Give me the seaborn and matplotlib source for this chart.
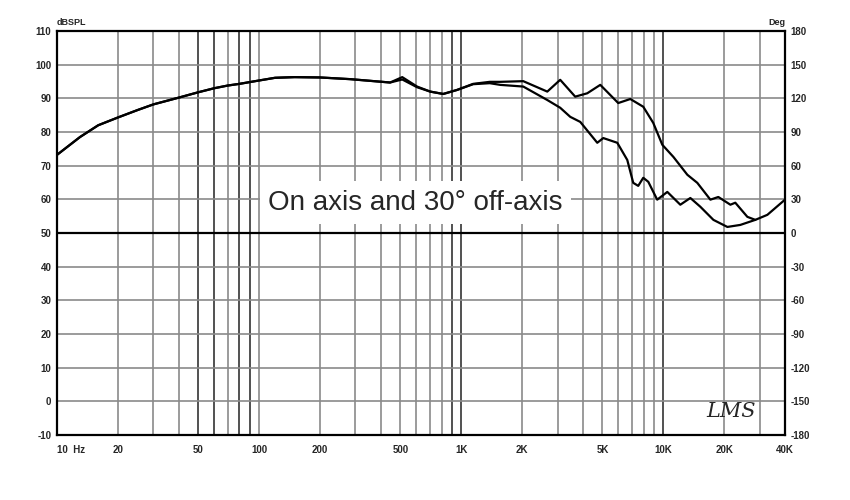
import numpy as np
import pandas as pd
import matplotlib
matplotlib.use("Agg")
import matplotlib.pyplot as plt
import seaborn as sns

# shared low-frequency part of both curves (Hz, dB SPL)
low_freq = [10, 13, 16, 20, 25, 30, 40, 50, 60, 70, 80, 100, 120, 150, 200, 282, 445]
low_db = [73.2, 78.5, 82.0, 84.3, 86.5, 88.2, 90.2, 91.8, 93.0, 93.8, 94.3, 95.3, 96.1, 96.3, 96.2, 95.7, 94.7]

# on axis
on_freq = [511, 605, 703, 815, 955, 1146, 1385, 1560, 2028, 2667, 3090, 3666, 4205, 4878,
           5985, 6868, 7960, 8920, 9890, 11220, 13150, 14730, 17100, 18720, 21480, 22710,
           26060, 28530, 32730, 40000]
on_db = [96.3, 93.5, 92.0, 91.3, 92.5, 94.3, 94.9, 94.9, 95.1, 92.0, 95.5, 90.5, 91.5, 94.0,
         88.6, 89.8, 87.5, 82.7, 76.2, 72.6, 67.3, 64.9, 59.9, 60.7, 58.4, 59.0,
         54.8, 53.9, 55.4, 59.9]

# 30 degrees off axis
off_freq = [511, 605, 703, 815, 955, 1146, 1385, 1560, 2028, 2667, 3090, 3465, 3883, 4713,
            5048, 5920, 6634, 7100, 7516, 7960, 8430, 9330, 10470, 12140, 13610, 15250,
            17700, 20750, 24050, 28530]
off_db = [95.6, 93.3, 92.0, 91.3, 92.5, 94.2, 94.5, 94.0, 93.5, 89.5, 87.2, 84.5, 83.0, 76.8,
          78.2, 76.8, 71.7, 64.9, 64.0, 66.4, 65.2, 59.9, 62.2, 58.4, 60.4, 57.8,
          53.9, 51.8, 52.4, 53.9]

x_ticks = [10, 20, 50, 100, 200, 500, 1000, 2000, 5000, 10000, 20000, 40000]
x_labels = ["10  Hz", "20", "50", "100", "200", "500", "1K", "2K", "5K", "10K", "20K", "40K"]
db_ticks = list(range(-10, 111, 10))
deg_ticks = list(range(-180, 181, 30))

df = pd.concat([
    pd.DataFrame({"freq": low_freq + on_freq, "db": low_db + on_db, "curve": "on"}),
    pd.DataFrame({"freq": low_freq + off_freq, "db": low_db + off_db, "curve": "off"}),
])

sns.set_theme(style="white")
plt.rcParams["font.family"] = ["Liberation Sans", "DejaVu Sans"]
plt.rcParams["axes.unicode_minus"] = False

fig = plt.figure(figsize=(8.5, 5), dpi=100)
ax = fig.add_axes([0.067, 0.13, 0.8565, 0.808])

# log grid: every 1..9 per decade, a few lines darker as in the scan
dark = {50, 60, 80, 90, 900, 1000, 10000}
grid_x = [m * 10 ** d for d in range(1, 5) for m in range(1, 10) if m * 10 ** d <= 40000]
for g in grid_x:
    ax.axvline(g, color="#333333" if g in dark else "#8a8a8a", lw=1.2, zorder=1)
for v in db_ticks:
    ax.axhline(v, color="#8a8a8a", lw=1.2, zorder=1)
ax.axhline(50, color="black", lw=1.6, zorder=2)

sns.lineplot(data=df, x="freq", y="db", units="curve", estimator=None,
             color="black", lw=1.6, legend=False, ax=ax, zorder=3)

ax.set_xscale("log")
ax.set_xlim(10, 40000)
ax.set_ylim(-10, 110)
ax.set_xticks(x_ticks)
ax.set_xticklabels(x_labels)
ax.xaxis.set_minor_locator(matplotlib.ticker.NullLocator())
ax.set_yticks(db_ticks)
ax.set_xlabel("")
ax.set_ylabel("")
ax.tick_params(axis="y", labelsize=7, length=0, pad=4)
ax.tick_params(axis="x", labelsize=7, length=0, pad=7)
for lbl in ax.get_xticklabels() + ax.get_yticklabels():
    lbl.set_fontweight("bold")
first = ax.get_xticklabels()[0]
first.set_horizontalalignment("left")
first.set_x(10.4)
for s in ax.spines.values():
    s.set_visible(True)
    s.set_color("black")
    s.set_linewidth(1.6)

ax2 = ax.twinx()
ax2.set_ylim(-180, 180)
ax2.set_yticks(deg_ticks)
ax2.tick_params(axis="y", labelsize=7, length=0, pad=4)
for lbl in ax2.get_yticklabels():
    lbl.set_fontweight("bold")
for s in ax2.spines.values():
    s.set_visible(False)
ax2.grid(False)

ax.text(0, 1.01, "dBSPL", transform=ax.transAxes, fontsize=6.5, fontweight="bold",
        ha="left", va="bottom")
ax.text(1, 1.01, "Deg", transform=ax.transAxes, fontsize=6.5, fontweight="bold",
        ha="right", va="bottom")

ax.text(0.492, 0.575, "On axis and 30° off-axis", transform=ax.transAxes, fontsize=20,
        ha="center", va="center", zorder=5,
        bbox=dict(facecolor="white", edgecolor="none", pad=6))

ax.text(0.96, 0.035, "LMS", transform=ax.transAxes, fontsize=15, style="italic",
        family="DejaVu Serif", ha="right", va="bottom", zorder=5)

fig.savefig("out.png", dpi=100, facecolor="white")
